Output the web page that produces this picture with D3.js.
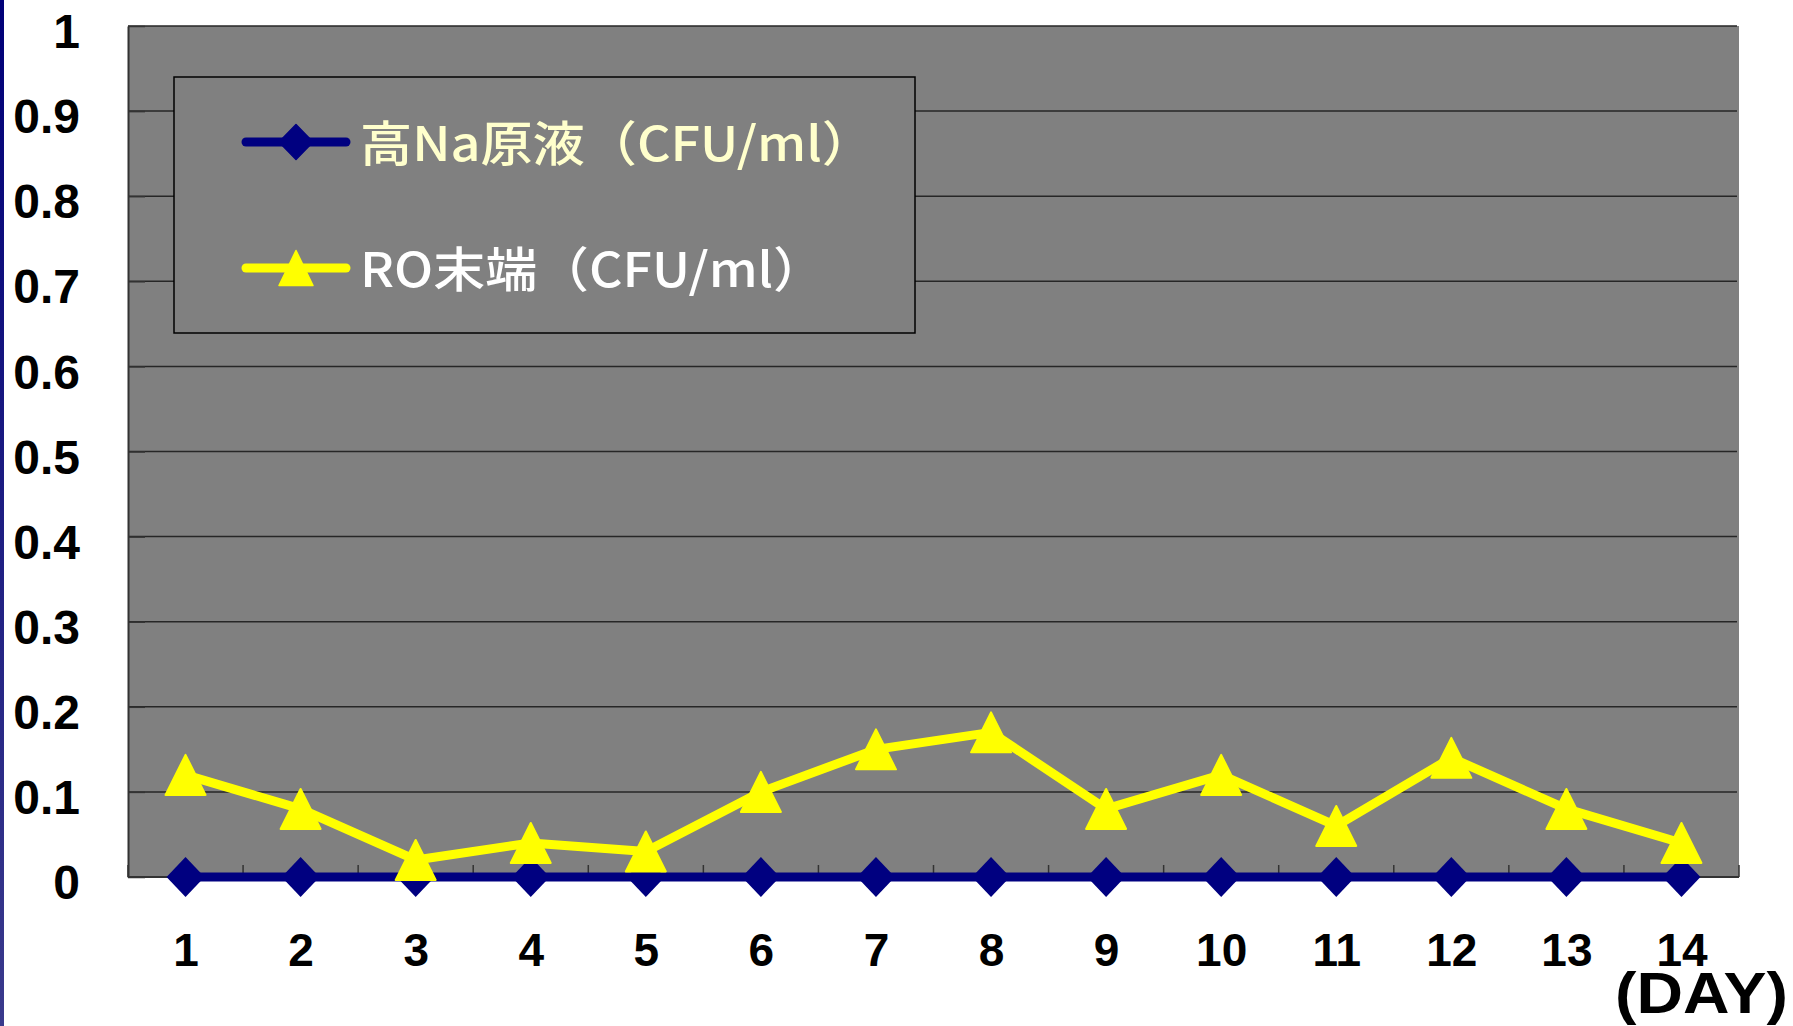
<!DOCTYPE html>
<html>
<head>
<meta charset="utf-8">
<script src="https://cdn.jsdelivr.net/npm/d3@7"></script>
<style>
  html, body { margin: 0; padding: 0; background: #ffffff; }
  svg { display: block; }
</style>
</head>
<body>
<svg id="chart" width="1793" height="1026"></svg>
<script>
// ---- data ----
const days = ["1","2","3","4","5","6","7","8","9","10","11","12","13","14"];
const highNa = [0,0,0,0,0,0,0,0,0,0,0,0,0,0];
const roEnd = [0.12,0.08,0.02,0.04,0.03,0.10,0.15,0.17,0.08,0.12,0.06,0.14,0.08,0.04];
const yTicks = [0,0.1,0.2,0.3,0.4,0.5,0.6,0.7,0.8,0.9,1];
const yTickLabels = ["0","0.1","0.2","0.3","0.4","0.5","0.6","0.7","0.8","0.9","1"];
const seriesNames = ["高Na原液（CFU/ml）","RO末端（CFU/ml）"];
const xAxisTitle = "(DAY)";

// ---- layout ----
const L = 128, R = 1739, T = 26, B = 877;
const svg = d3.select("#chart");

// left slide accent bar
const grad = svg.append("defs").append("linearGradient")
  .attr("id","bar").attr("x1",0).attr("y1",0).attr("x2",0).attr("y2",1);
grad.append("stop").attr("offset","0%").attr("stop-color","#000078");
grad.append("stop").attr("offset","100%").attr("stop-color","#3a3a8c");
svg.append("rect").attr("x",0).attr("y",0).attr("width",4).attr("height",1026).attr("fill","url(#bar)");

const x = d3.scaleBand().domain(days).range([L, R]).padding(0);
const cx = d => x(d) + x.bandwidth()/2;
const y = d3.scaleLinear().domain([0,1]).range([B, T]);

// plot background
svg.append("rect").attr("x",L).attr("y",T).attr("width",R-L).attr("height",B-T).attr("fill","#808080");

// gridlines
svg.append("g").selectAll("line").data(yTicks.filter(v => v > 0)).join("line")
  .attr("x1",L).attr("x2",R-2).attr("y1",d=>y(d)).attr("y2",d=>y(d))
  .attr("stroke","#262626").attr("stroke-width",1.5);

// y axis
const yAxis = d3.axisLeft(y).tickValues(yTicks)
  .tickFormat((d,i) => yTickLabels[i]).tickSizeInner(-17).tickSizeOuter(0).tickPadding(48);
const gy = svg.append("g").attr("transform",`translate(${L},0)`).call(yAxis);
gy.select(".domain").attr("stroke","#333").attr("stroke-width",2);
gy.selectAll(".tick line").attr("stroke","#333").attr("stroke-width",1.5);
gy.selectAll(".tick text").attr("fill","#000").attr("font-family","'Liberation Sans', Arial, sans-serif")
  .attr("font-weight","bold").attr("font-size",48).attr("dy","0.45em");

// x axis base line and boundary ticks
const gx = svg.append("g");
gx.append("line").attr("x1",L).attr("x2",R).attr("y1",B).attr("y2",B).attr("stroke","#333").attr("stroke-width",2);
const bounds = days.map(d => x(d)).concat([x(days[days.length-1]) + x.bandwidth()]);
gx.selectAll("line.tk").data(bounds).join("line").attr("class","tk")
  .attr("x1",d=>d).attr("x2",d=>d).attr("y1",B).attr("y2",B-12)
  .attr("stroke","#333").attr("stroke-width",1.5);

// x labels
const xp = d3.scalePoint().domain(days).range([cx(days[0]), cx(days[days.length-1])]);
const xAxis = d3.axisBottom(xp).tickSize(0).tickPadding(56);
const gxl = svg.append("g").attr("transform",`translate(0,${B})`).call(xAxis);
gxl.select(".domain").remove();
gxl.selectAll(".tick text").attr("fill","#000").attr("font-family","'Liberation Sans', Arial, sans-serif")
  .attr("font-weight","bold").attr("font-size",46);

// axis title
svg.append("text").attr("x",1615).attr("y",1013).text(xAxisTitle)
  .attr("font-family","'Liberation Sans', Arial, sans-serif").attr("font-weight","bold")
  .attr("font-size",57).attr("fill","#000").attr("textLength",173).attr("lengthAdjust","spacingAndGlyphs");

// markers
const diamond = (s) => `M0,${-s.h/2}L${s.w/2},0L0,${s.h/2}L${-s.w/2},0Z`;
const triangle = (s) => `M0,${-s.h/2}L${s.w/2},${s.h/2}L${-s.w/2},${s.h/2}Z`;
const BLUE = "#000080", YEL = "#ffff00";

const line = d3.line().x((d,i) => cx(days[i])).y(d => y(d));

// series 1 (blue)
svg.append("path").datum(highNa).attr("d",line).attr("fill","none")
  .attr("stroke",BLUE).attr("stroke-width",9).attr("stroke-linejoin","round");
svg.append("g").selectAll("path").data(highNa).join("path")
  .attr("transform",(d,i)=>`translate(${cx(days[i])},${y(d)})`)
  .attr("d",diamond({w:38,h:40})).attr("fill",BLUE);

// series 2 (yellow)
svg.append("path").datum(roEnd).attr("d",line).attr("fill","none")
  .attr("stroke",YEL).attr("stroke-width",9).attr("stroke-linejoin","round");
svg.append("g").selectAll("path").data(roEnd).join("path")
  .attr("transform",(d,i)=>`translate(${cx(days[i])},${y(d)})`)
  .attr("d",triangle({w:40,h:40})).attr("fill",YEL)
  .attr("stroke",YEL).attr("stroke-width",2).attr("stroke-linejoin","round");

// legend
const lg = svg.append("g");
lg.append("rect").attr("x",174).attr("y",77).attr("width",741).attr("height",256)
  .attr("fill","#808080").attr("stroke","#000").attr("stroke-width",1.5);
const legendRows = [
  {name: seriesNames[0], color: BLUE, text: "#ffffcc", cy: 142, base: 161, len: 514, marker: diamond({w:34,h:35})},
  {name: seriesNames[1], color: YEL, text: "#ffffff", cy: 268, base: 287, len: 465, marker: triangle({w:34,h:35})}
];
legendRows.forEach(r => {
  lg.append("line").attr("x1",246).attr("x2",346).attr("y1",r.cy).attr("y2",r.cy)
    .attr("stroke",r.color).attr("stroke-width",9).attr("stroke-linecap","round");
  lg.append("path").attr("transform",`translate(296,${r.cy})`).attr("d",r.marker).attr("fill",r.color)
    .attr("stroke",r.color).attr("stroke-width",1.5).attr("stroke-linejoin","round");
  lg.append("text").attr("x",360).attr("y",r.base).text(r.name)
    .attr("font-family","'Noto Sans CJK JP', 'Noto Sans CJK SC', sans-serif").attr("font-weight","500")
    .attr("font-size",48).attr("fill",r.text)
    .attr("textLength",r.len).attr("lengthAdjust","spacingAndGlyphs");
});
</script>
</body>
</html>
